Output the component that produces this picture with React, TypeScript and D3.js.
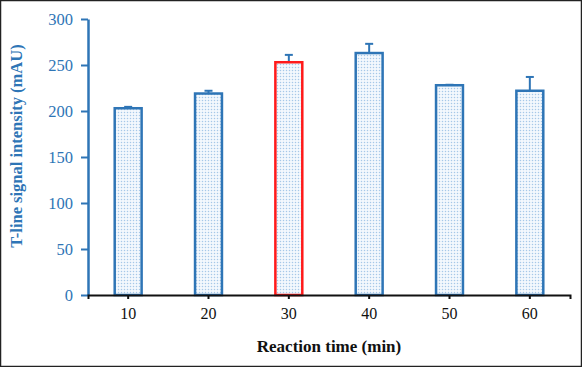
import * as d3 from 'd3';
import * as React from 'react';

const { useRef, useEffect } = React;

const width = 582;
const height = 367;
const margin = { top: 19, right: 12, bottom: 72, left: 88 };

const times = ['10', '20', '30', '40', '50', '60'];
const signal = [203, 219, 253, 263, 228, 222];
const errors = [1.5, 3, 8, 10, 0.5, 15];
const highlight = ['30'];
const yTicks = [0, 50, 100, 150, 200, 250, 300];

const blue = '#2e75b6';
const red = '#ff1a1a';

export default () => {
  const rootRef = useRef<SVGSVGElement>(null);

  useEffect(() => {
    const svgEl = rootRef.current;
    if (!svgEl) return;

    const svg = d3.select(svgEl);
    svg.selectAll('*').remove();

    const x = d3
      .scaleBand()
      .domain(times)
      .range([margin.left, 570])
      .paddingInner(0.665)
      .paddingOuter(0.3325);

    const y = d3
      .scaleLinear()
      .domain([0, 300])
      .range([295, margin.top]);

    // dotted fill like the original
    const defs = svg.append('defs');
    const pat = defs
      .append('pattern')
      .attr('id', 'dots')
      .attr('patternUnits', 'userSpaceOnUse')
      .attr('width', 3)
      .attr('height', 3);
    pat.append('rect').attr('width', 3).attr('height', 3).attr('fill', '#f3f8fd');
    pat.append('circle').attr('cx', 1.5).attr('cy', 1.5).attr('r', 0.75).attr('fill', '#a6c8e8');

    // frame
    svg
      .append('rect')
      .attr('x', 0.5)
      .attr('y', 0.5)
      .attr('width', width - 1)
      .attr('height', height - 1)
      .attr('fill', 'white')
      .attr('stroke', '#222')
      .attr('stroke-width', 1.5);

    const data = times.map((t, i) => ({ t, v: signal[i], e: errors[i] }));

    // error bars (up only)
    const eb = svg.append('g').selectAll('g').data(data).join('g');
    eb.append('line')
      .attr('x1', d => x(d.t)! + x.bandwidth() / 2)
      .attr('x2', d => x(d.t)! + x.bandwidth() / 2)
      .attr('y1', d => y(d.v))
      .attr('y2', d => y(d.v + d.e))
      .attr('stroke', blue)
      .attr('stroke-width', 2);
    eb.append('line')
      .attr('x1', d => x(d.t)! + x.bandwidth() / 2 - 4)
      .attr('x2', d => x(d.t)! + x.bandwidth() / 2 + 4)
      .attr('y1', d => y(d.v + d.e))
      .attr('y2', d => y(d.v + d.e))
      .attr('stroke', blue)
      .attr('stroke-width', 2);

    svg
      .append('g')
      .selectAll('rect')
      .data(data)
      .join('rect')
      .attr('x', d => x(d.t)!)
      .attr('y', d => y(d.v))
      .attr('width', x.bandwidth())
      .attr('height', d => y(0) - y(d.v))
      .attr('fill', 'url(#dots)')
      .attr('stroke', d => (highlight.includes(d.t) ? red : blue))
      .attr('stroke-width', 2.5);

    // y axis
    const yAxis = svg
      .append('g')
      .attr('transform', `translate(${margin.left},0)`)
      .call(d3.axisLeft(y).tickValues(yTicks).tickSize(7).tickPadding(8).tickSizeOuter(0));
    yAxis.select('.domain').attr('stroke', blue).attr('stroke-width', 2.5);
    yAxis.selectAll('.tick line').attr('stroke', blue).attr('stroke-width', 2);
    yAxis
      .selectAll('.tick text')
      .attr('fill', blue)
      .attr('font-family', '"Liberation Serif", "Times New Roman", serif')
      .attr('font-size', 16.5);

    // x axis
    const xAxis = svg
      .append('g')
      .attr('transform', `translate(0,${y(0)})`)
      .call(d3.axisBottom(x).tickSize(4).tickSizeOuter(4).tickPadding(9));
    xAxis.select('.domain').attr('stroke', '#111').attr('stroke-width', 2);
    xAxis.selectAll('.tick line').attr('stroke', '#111').attr('stroke-width', 2);
    xAxis
      .selectAll('.tick text')
      .attr('fill', '#111')
      .attr('font-family', '"Liberation Serif", "Times New Roman", serif')
      .attr('font-size', 16);

    svg
      .append('text')
      .attr('x', (margin.left + 570) / 2)
      .attr('y', 352)
      .attr('text-anchor', 'middle')
      .attr('font-family', '"Liberation Serif", "Times New Roman", serif')
      .attr('font-weight', 'bold')
      .attr('font-size', 17)
      .attr('fill', '#111')
      .text('Reaction time (min)');

    svg
      .append('text')
      .attr('transform', `translate(22,146) rotate(-90)`)
      .attr('text-anchor', 'middle')
      .attr('font-family', '"Liberation Serif", "Times New Roman", serif')
      .attr('font-weight', 'bold')
      .attr('font-size', 16.5)
      .attr('fill', blue)
      .text('T-line signal intensity (mAU)');
  }, []);

  return (
    <div style={{ position: 'fixed', left: 0, top: 0 }}>
      <svg ref={rootRef} width={width} height={height} style={{ display: 'block' }} />
    </div>
  );
};
